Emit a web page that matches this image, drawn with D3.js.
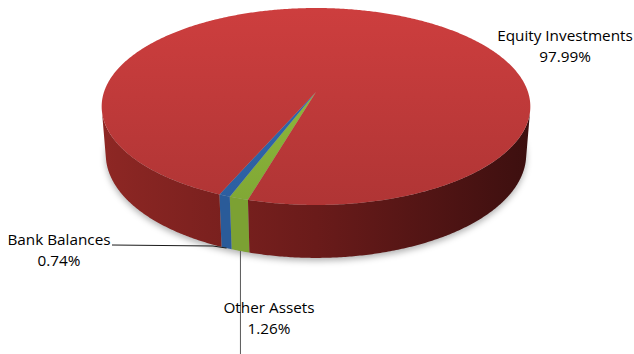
<!DOCTYPE html>
<html>
<head>
<meta charset="utf-8">
<script src="https://cdn.jsdelivr.net/npm/d3@7"></script>
<style>
  body { margin: 0; background: #fff; }
  svg { display: block; }
  text { font-family: "Open Sans", sans-serif; font-size: 15.3px; fill: #000; }
</style>
</head>
<body>
<script>
// data, in the order the slices are laid clockwise
const categories = ["Other Assets", "Bank Balances", "Equity Investments"];
const values = [1.26, 0.74, 97.99];
const valueLabels = ["1.26%", "0.74%", "97.99%"];
const colors = ["#8fba3b", "#3169b1", "#c43b3b"];

const width = 634, height = 354;
const toRad = Math.PI / 180;

// 3d view of the disk
const cx = 316, cy = 92;
const k = 212;
const elev = Math.asin(0.4545);
const dist = 6.8 * Math.cos(elev);
const thick = 0.256;
const f = k * dist;

function proj(a, r, h) {
	const x = r * Math.sin(a), z = -r * Math.cos(a), y = -h;
	const yp = y * Math.cos(elev) - z * Math.sin(elev);
	const zp = z * Math.cos(elev) + y * Math.sin(elev);
	const d = dist - zp;
	return [cx + f * x / d, cy - f * yp / d];
}

function arcPts(a0, a1, h) {
	const n = Math.max(2, Math.ceil((a1 - a0) / (0.5 * toRad)));
	return d3.range(n + 1).map(i => proj(a0 + (a1 - a0) * i / n, 1, h));
}

const color = d3.scaleOrdinal(categories, colors);
const startAngle = 196.0 * toRad;
const arcs = d3.pie().sort(null)
	.startAngle(startAngle)
	.endAngle(startAngle + 2 * Math.PI)(values);

const line = d3.line();

const svg = d3.select("body").append("svg")
	.attr("width", width)
	.attr("height", height);

const defs = svg.append("defs");

const blur = defs.append("filter").attr("id", "shadowBlur")
	.attr("x", "-10%").attr("y", "-10%").attr("width", "120%").attr("height", "130%");
blur.append("feGaussianBlur").attr("stdDeviation", 3);

// top face gradients
arcs.forEach((d, i) => {
	const c = color(categories[i]);
	const g = defs.append("linearGradient").attr("id", "top" + i)
		.attr("gradientUnits", "userSpaceOnUse")
		.attr("x1", 0).attr("y1", 8).attr("x2", 0).attr("y2", 205);
	g.append("stop").attr("offset", 0).attr("stop-color", d3.color(c).brighter(0.12));
	g.append("stop").attr("offset", 1).attr("stop-color", d3.color(c).darker(0.3));
});

// side wall gradient (left lit, right in shadow)
const wallGrad = defs.append("linearGradient").attr("id", "wall")
	.attr("gradientUnits", "userSpaceOnUse")
	.attr("x1", 100).attr("y1", 0).attr("x2", 532).attr("y2", 0);
wallGrad.append("stop").attr("offset", 0).attr("stop-color", "#8e2724");
wallGrad.append("stop").attr("offset", 0.5).attr("stop-color", "#6a1b1a");
wallGrad.append("stop").attr("offset", 1).attr("stop-color", "#3c0f0f");

const g = svg.append("g");

// soft shadow under the disk
g.append("path")
	.attr("d", line(d3.range(0, 361, 2).map(a => proj(a * toRad, 1, thick))) + "Z")
	.attr("transform", "translate(0,3)")
	.attr("fill", "#000")
	.attr("fill-opacity", 0.3)
	.attr("filter", "url(#shadowBlur)");

// visible part of the outer wall
const lim = Math.acos(-1 / (dist * Math.cos(elev)));
arcs.forEach((d, i) => {
	[0, 2 * Math.PI].forEach(off => {
		const lo = Math.max(d.startAngle, lim + off);
		const hi = Math.min(d.endAngle, 2 * Math.PI - lim + off);
		if (hi <= lo) return;
		const pts = arcPts(lo, hi, 0).concat(arcPts(lo, hi, thick).reverse());
		g.append("path")
			.attr("class", "wall")
			.attr("d", line(pts) + "Z")
			.attr("fill", i == 2 ? "url(#wall)" : d3.color(color(categories[i])).darker(0.4))
			.attr("stroke", "none");
	});
});

// top faces
g.selectAll(".top")
	.data(arcs)
	.enter()
	.append("path")
		.attr("class", "top")
		.attr("d", d => line([proj(0, 0, 0)].concat(arcPts(d.startAngle, d.endAngle, 0))) + "Z")
		.attr("fill", (d, i) => "url(#top" + i + ")");

// labels and leader lines
const mid = d => (d.startAngle + d.endAngle) / 2;
const otherEnd = proj(mid(arcs[0]), 1, thick);
const bankEnd = proj(mid(arcs[1]), 1, thick);

g.append("path")
	.attr("d", line([[112, 245], [213, 246], bankEnd]))
	.attr("fill", "none")
	.attr("stroke", "#1a1a1a")
	.attr("stroke-width", 1);

g.append("path")
	.attr("d", line([otherEnd, [otherEnd[0], height]]))
	.attr("fill", "none")
	.attr("stroke", "#595959")
	.attr("stroke-width", 1);

const labelPos = [[269, 313], [59, 245], [565, 41]];
labelPos.forEach((p, i) => {
	const t = g.append("text")
		.attr("text-anchor", "middle")
		.attr("x", p[0]).attr("y", p[1]);
	t.append("tspan").attr("x", p[0]).text(categories[i]);
	t.append("tspan").attr("x", p[0]).attr("dy", 21).text(valueLabels[i]);
});
</script>
</body>
</html>
